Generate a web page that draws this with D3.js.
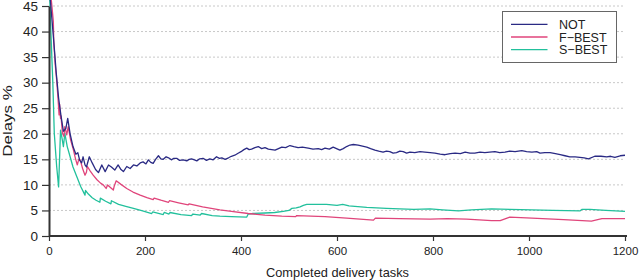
<!DOCTYPE html>
<html>
<head>
<meta charset="utf-8">
<script src="https://cdn.jsdelivr.net/npm/d3@7"></script>
<style>
  body { margin: 0; background: #fff; }
  text { font-family: "Liberation Sans", Arial, sans-serif; fill: #222; }
</style>
</head>
<body>
<div id="vis"></div>
<script>
// Series: [completed tasks, delays %]
var notPoints = [[2,47],[10,38],[15,32],[20,27],[25,23.5],[30,20.5],[35,21],[39,23],[44,20],[50,17.5],[56,16],[60,16.3],
  [64,14.8],[68,14.3],[71,15.5],[75,13.9],[78,13.5],[84,15.5],[90,14.3],[97,13.0],[103,12.4],[110,13.9],[117,12.6],
  [124,13.9],[130,13.5],[137,12.9],[144,13.9],[150,13.0],[155,12.6],[162,13.6],[169,13.2],[176,13.9],[183,13.7],
  [190,14.3],[196,14.5],[202,14.1],[207,14.9],[212,14.4],[217,14.2],[222,15.0],[228,15.7],[233,15.1],[238,15.0],
  [244,15.5],[249,15.3],[255,14.9],[260,15.2],[266,15.2],[272,14.8],[280,14.9],[287,14.7],[292,15.0],[297,15.1],
  [303,14.9],[308,14.7],[314,15.1],[321,15.2],[328,14.8],[335,15.1],[342,14.9],[349,15.5],[355,15.2],[360,15.3],
  [367,15.0],[374,15.3],[380,15.6],[387,15.8],[394,16.2],[400,16.5],[406,16.9],[412,17.2],[417,16.9],[422,17.0],
  [429,17.3],[436,17.5],[443,17.1],[450,17.3],[457,17.0],[464,16.9],[471,16.8],[478,17.1],[485,17.4],[493,17.3],
  [502,17.7],[510,17.5],[519,17.3],[528,17.4],[540,17.2],[550,17.0],[561,17.1],[568,16.9],[575,17.2],[584,17.0],
  [592,17.4],[599,17.1],[606,16.8],[613,17.1],[620,17.5],[627,17.8],[634,17.9],[644,17.8],[653,17.6],[662,17.4],
  [670,17.1],[679,16.8],[687,16.6],[696,16.4],[703,16.6],[710,16.5],[717,16.2],[724,16.3],[731,16.6],[738,16.5],
  [745,16.2],[752,16.4],[762,16.3],[773,16.5],[783,16.4],[794,16.3],[804,16.2],[815,16.0],[825,15.9],[836,16.1],
  [846,16.2],[857,16.1],[867,16.4],[877,16.2],[887,16.2],[898,16.4],[908,16.3],[918,16.4],[929,16.5],[939,16.3],
  [950,16.4],[960,16.6],[971,16.5],[985,16.7],[995,16.5],[1006,16.4],[1016,16.5],[1023,16.2],[1033,16.3],[1044,16.3],
  [1055,16.1],[1065,15.9],[1075,15.7],[1085,15.5],[1096,15.5],[1106,15.4],[1115,15.3],[1124,15.1],[1137,15.6],
  [1150,15.6],[1162,15.5],[1170,15.6],[1179,15.4],[1190,15.7],[1200,15.8]];

var fBestPoints = [[3,48],[7,44],[9,42],[10,38],[12,35],[13,33.5],[16,30.5],[19,26.6],[21,23.7],[22,25.8],[24,23],
  [25,23.5],[28,20.1],[31,19.5],[33,21.4],[37,19.8],[40,21.4],[45,18.8],[51,16.8],[55,15.2],[59,13.9],[62,15],
  [65,14.9],[70,13.2],[75,11.9],[78,12.5],[80,13.6],[86,12.7],[92,11.9],[100,11],[108,10.3],[113,10.0],[119,9.3],
  [122,10.0],[128,9.5],[134,9.0],[136,9.8],[140,10.8],[150,10.1],[162,9.3],[175,8.6],[190,8.0],[204,7.5],[217,7.1],
  [219,7.4],[233,7.0],[249,6.6],[251,6.9],[270,6.5],[290,6.1],[292,6.3],[320,5.7],[356,5.1],[380,4.8],[415,4.4],
  [450,4.1],[485,3.9],[514,3.8],[516,4.0],[545,3.9],[575,3.8],[620,3.5],[676,3.1],[680,3.5],[730,3.4],[794,3.3],
  [830,3.4],[870,3.3],[922,3.0],[940,3.0],[960,3.7],[1006,3.5],[1072,3.2],[1130,2.9],[1152,3.4],[1200,3.4]];

var sBestPoints = [[1,48],[4,39.7],[8,29.9],[11,20.1],[16,13.6],[20,9.6],[24,20.7],[27,19.2],[30,17.5],[33,20.1],
  [38,17.5],[44,15.5],[50,13.5],[58,11.6],[66,9.7],[75,8.0],[76,8.9],[82,8.2],[90,7.5],[98,7.0],[106,6.6],[107,7.4],
  [118,6.8],[129,6.3],[130,6.9],[145,6.2],[160,5.8],[176,5.4],[195,4.9],[214,4.4],[216,4.7],[238,4.2],[240,4.6],
  [250,4.3],[252,4.6],[275,4.2],[297,4.0],[300,4.3],[315,4.1],[318,4.4],[340,4.0],[356,3.9],[380,3.8],[412,3.7],
  [415,4.3],[425,4.4],[450,4.5],[470,4.6],[488,4.8],[500,5.0],[506,5.4],[515,5.5],[523,5.7],[530,6.0],[537,6.2],
  [560,6.2],[578,6.2],[600,6.0],[612,6.2],[625,5.9],[662,5.6],[703,5.4],[731,5.3],[760,5.2],[794,5.3],[820,5.1],
  [853,4.9],[880,5.1],[922,5.3],[960,5.2],[1006,5.1],[1050,5.0],[1106,4.9],[1110,5.2],[1127,5.2],[1160,5.0],[1200,4.8]];

var seriesNames = ['NOT', 'F\u2212BEST', 'S\u2212BEST'];
var seriesColors = ['#2a2a84', '#e0457b', '#22c09c'];
var xTicks = [0, 200, 400, 600, 800, 1000, 1200];
var yTicks = [0, 5, 10, 15, 20, 25, 30, 35, 40, 45];

var width = 640;
var height = 280;
var margin = { top: 6, right: 15, bottom: 44, left: 49 };

var svg = d3.select('#vis').append('svg')
  .attr('width', width)
  .attr('height', height);

var x = d3.scaleLinear().domain([0, 1200]).range([margin.left, width - margin.right]);
var y = d3.scaleLinear().domain([0, 45]).range([height - margin.bottom, margin.top]);

// dashed horizontal grid
svg.append('g')
  .selectAll('line')
  .data(yTicks.filter(function (d) { return d > 0; }))
  .enter().append('line')
  .attr('x1', x(0)).attr('x2', x(1200))
  .attr('y1', function (d) { return y(d); })
  .attr('y2', function (d) { return y(d); })
  .attr('stroke', '#c8c8c8')
  .attr('stroke-width', 1)
  .attr('stroke-dasharray', '2,2');

// series lines
var line = d3.line()
  .x(function (d) { return x(d[0]); })
  .y(function (d) { return y(d[1]); });

var allSeries = [notPoints, fBestPoints, sBestPoints];
// draw S-BEST first so NOT ends on top
[2, 1, 0].forEach(function (i) {
  svg.append('path')
    .datum(allSeries[i])
    .attr('fill', 'none')
    .attr('stroke', seriesColors[i])
    .attr('stroke-width', 1.3)
    .attr('stroke-linejoin', 'round')
    .attr('d', line);
});

// axes
var xAxis = svg.append('g')
  .attr('transform', 'translate(0,' + y(0) + ')')
  .call(d3.axisBottom(x).tickValues(xTicks).tickFormat(d3.format('d'))
    .tickSize(5).tickPadding(6).tickSizeOuter(0));
xAxis.select('.domain').attr('stroke', '#333').attr('stroke-width', 2)
  .attr('d', 'M' + x(0) + ',0H' + (x(1200) + 2));
xAxis.selectAll('.tick line').attr('stroke', '#333').attr('stroke-width', 1.2);
xAxis.selectAll('.tick text').style('font-size', '11.5px').attr('fill', '#222')
  .style('font-family', '"Liberation Sans", Arial, sans-serif');

var yAxis = svg.append('g')
  .attr('transform', 'translate(' + x(0) + ',0)')
  .call(d3.axisLeft(y).tickValues(yTicks).tickSize(7).tickPadding(4).tickSizeOuter(0));
yAxis.select('.domain').attr('stroke', '#333').attr('stroke-width', 2);
yAxis.selectAll('.tick line').attr('stroke', '#333').attr('stroke-width', 1.2);
yAxis.selectAll('.tick text').style('font-size', '13.5px').attr('fill', '#222')
  .style('font-family', '"Liberation Sans", Arial, sans-serif');

// axis titles
svg.append('text')
  .attr('x', (x(0) + x(1200)) / 2 + 0.5)
  .attr('y', 276.5)
  .attr('text-anchor', 'middle')
  .style('font-size', '12.8px')
  .text('Completed delivery tasks');

svg.append('text')
  .attr('transform', 'translate(11.5,121) rotate(-90) scale(1.3,1)')
  .attr('text-anchor', 'middle')
  .style('font-size', '13px')
  .text('Delays %');

// legend
var legend = svg.append('g').attr('transform', 'translate(502.5,11.5)');
legend.append('rect')
  .attr('width', 114).attr('height', 51)
  .attr('fill', '#fff')
  .attr('stroke', '#666')
  .attr('stroke-width', 1);

seriesNames.forEach(function (name, i) {
  var ly = 12.8 + i * 12.7;
  legend.append('line')
    .attr('x1', 8.5).attr('x2', 45)
    .attr('y1', ly).attr('y2', ly)
    .attr('stroke', seriesColors[i])
    .attr('stroke-width', 1.3);
  legend.append('text')
    .attr('x', 56.5)
    .attr('y', ly + 4.6)
    .style('font-size', '12.5px')
    .text(name);
});
</script>
</body>
</html>
